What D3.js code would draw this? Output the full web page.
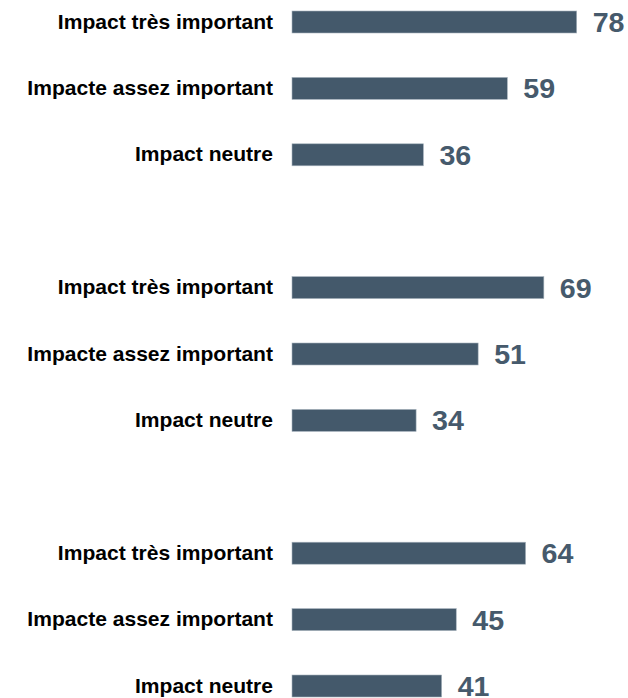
<!DOCTYPE html>
<html>
<head>
<meta charset="utf-8">
<script src="https://cdn.jsdelivr.net/npm/d3@7"></script>
<style>
  body { margin: 0; background: #fff; }
  .cat-label { font-family: "Liberation Sans", Arial, sans-serif; font-weight: bold; font-size: 19.5px; fill: #000; }
  .value-label { font-family: "Liberation Sans", Arial, sans-serif; font-weight: bold; font-size: 27px; fill: #465a6c; }
</style>
</head>
<body>
<div id="wrapper"></div>
<script>
// categories repeated in each block
const categories = ["Impact très important", "Impacte assez important", "Impact neutre"]
// three blocks of the chart, top to bottom
const groups = ["g1", "g2", "g3"]
const valuesGroup1 = [78, 59, 36]
const valuesGroup2 = [69, 51, 34]
const valuesGroup3 = [64, 45, 41]

function drawChart() {
  const dimensions = { width: 628, height: 698 }

  const rows = []
  ;[valuesGroup1, valuesGroup2, valuesGroup3].forEach((vals, gi) => {
    vals.forEach((v, i) => rows.push({ group: groups[gi], category: categories[i], value: v }))
  })

  const wrapper = d3.select("#wrapper")
    .append("svg")
    .attr("width", dimensions.width)
    .attr("height", dimensions.height)

  // x scale: bars start just right of the labels
  const xScale = d3.scaleLinear()
    .domain([0, 100])
    .range([292, 657])

  // each block takes 4 row slots (3 bars + an empty one)
  const rowStep = 66.4
  const groupScale = d3.scaleBand()
    .domain(groups)
    .range([-11.2, -11.2 + 3 * 4 * rowStep])
  const pad = 1 - 22 / rowStep
  const rowScale = d3.scaleBand()
    .domain(categories)
    .range([0, 3 * rowStep])
    .paddingInner(pad)
    .paddingOuter(pad / 2)

  const yTop = d => groupScale(d.group) + rowScale(d.category)
  const yMid = d => yTop(d) + rowScale.bandwidth() / 2

  // the source text is a bit wider than the font, stretch it slightly
  const stretch = 1.08

  const bounds = wrapper.append("g")

  bounds.selectAll(".bar")
    .data(rows)
    .enter().append("rect")
    .attr("class", "bar")
    .attr("x", xScale(0))
    .attr("y", yTop)
    .attr("width", d => xScale(d.value) - xScale(0))
    .attr("height", rowScale.bandwidth())
    .attr("fill", "#44596b")
    .attr("stroke", "#a7b3bd")
    .attr("stroke-width", 0.6)

  bounds.selectAll(".cat-label")
    .data(rows)
    .enter().append("text")
    .attr("class", "cat-label")
    .attr("transform", d => `translate(${xScale(0) - 19}, ${yMid(d) + 6.5}) scale(${stretch}, 1)`)
    .attr("text-anchor", "end")
    .text(d => d.category)

  bounds.selectAll(".value-label")
    .data(rows)
    .enter().append("text")
    .attr("class", "value-label")
    .attr("transform", d => `translate(${xScale(d.value) + 16}, ${yMid(d) + 10}) scale(1.06, 1)`)
    .text(d => d.value)
}
drawChart()
</script>
</body>
</html>
